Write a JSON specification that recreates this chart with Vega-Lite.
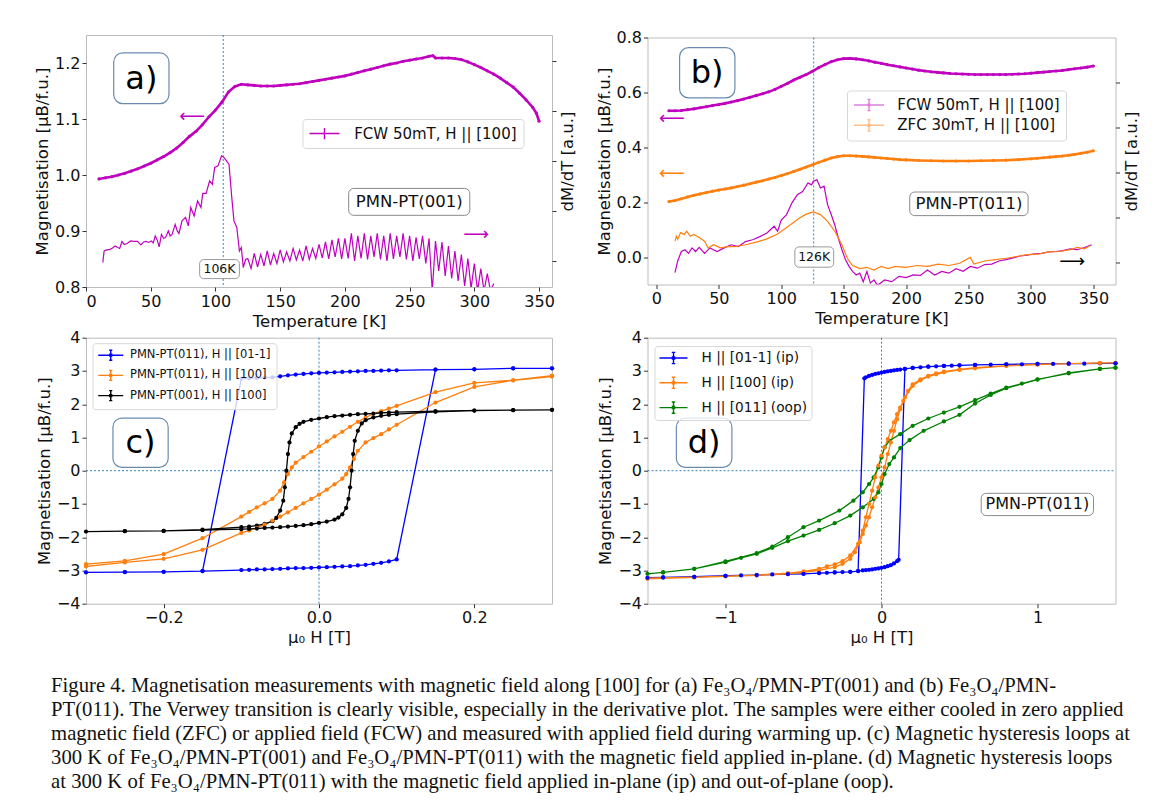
{
"$schema": "https://vega.github.io/schema/vega-lite/v6.json",
"background": "white",
"padding": {"left": 34, "top": 29, "right": 5, "bottom": 5},
"config": {
 "view": {"stroke": "#bcbcbc", "strokeWidth": 1},
 "font": "DejaVu Sans",
 "axis": {"grid": false, "domain": false, "labelFont": "DejaVu Sans", "labelFontSize": 16, "labelColor": "#111", "titleFont": "DejaVu Sans", "titleFontSize": 16.5, "titleFontWeight": "normal", "titleColor": "#111", "tickColor": "#333", "tickSize": 4, "tickWidth": 1, "labelPadding": 2, "titlePadding": 4},
 "legend": {"labelFont": "DejaVu Sans", "labelColor": "#111"}
},
"title": {"text": [
 "Figure 4. Magnetisation measurements with magnetic field along [100] for (a) Fe₃O₄/PMN-PT(001) and (b) Fe₃O₄/PMN-",
 "PT(011). The Verwey transition is clearly visible, especially in the derivative plot. The samples were either cooled in zero applied",
 "magnetic field (ZFC) or applied field (FCW) and measured with applied field during warming up. (c) Magnetic hysteresis loops at",
 "300 K of Fe₃O₄/PMN-PT(001) and Fe₃O₄/PMN-PT(011) with the magnetic field applied in-plane. (d) Magnetic hysteresis loops",
 "at 300 K of Fe₃O₄/PMN-PT(011) with the magnetic field applied in-plane (ip) and out-of-plane (oop)."],
 "orient": "bottom", "anchor": "start", "font": "Liberation Serif", "fontSize": 20.7, "fontWeight": "normal", "color": "#111", "lineHeight": 24, "offset": 29, "dx": 17},
"datasets": {
 "magA": [{"T":10,"y":0.993},{"T":15,"y":0.995},{"T":20,"y":0.997},{"T":25,"y":1.0},{"T":30,"y":1.003},{"T":35,"y":1.007},{"T":40,"y":1.011},{"T":45,"y":1.016},{"T":50,"y":1.021},{"T":55,"y":1.027},{"T":60,"y":1.033},{"T":65,"y":1.04},{"T":70,"y":1.048},{"T":75,"y":1.058},{"T":80,"y":1.069},{"T":85,"y":1.078},{"T":90,"y":1.09},{"T":95,"y":1.104},{"T":100,"y":1.116},{"T":105,"y":1.13},{"T":110,"y":1.148},{"T":115,"y":1.158},{"T":120,"y":1.162},{"T":125,"y":1.161},{"T":130,"y":1.16},{"T":135,"y":1.159},{"T":140,"y":1.159},{"T":145,"y":1.159},{"T":150,"y":1.16},{"T":155,"y":1.161},{"T":160,"y":1.162},{"T":165,"y":1.163},{"T":170,"y":1.165},{"T":175,"y":1.167},{"T":180,"y":1.169},{"T":185,"y":1.171},{"T":190,"y":1.173},{"T":195,"y":1.175},{"T":200,"y":1.177},{"T":205,"y":1.18},{"T":210,"y":1.183},{"T":215,"y":1.186},{"T":220,"y":1.189},{"T":225,"y":1.192},{"T":230,"y":1.195},{"T":235,"y":1.198},{"T":240,"y":1.2},{"T":245,"y":1.203},{"T":250,"y":1.205},{"T":255,"y":1.207},{"T":260,"y":1.209},{"T":265,"y":1.212},{"T":268,"y":1.213},{"T":270,"y":1.209},{"T":275,"y":1.209},{"T":280,"y":1.209},{"T":285,"y":1.208},{"T":290,"y":1.206},{"T":295,"y":1.202},{"T":300,"y":1.197},{"T":305,"y":1.192},{"T":310,"y":1.186},{"T":315,"y":1.18},{"T":320,"y":1.173},{"T":325,"y":1.165},{"T":330,"y":1.157},{"T":335,"y":1.146},{"T":340,"y":1.134},{"T":345,"y":1.121},{"T":348,"y":1.11},{"T":350,"y":1.096}],
 "derA": [{"T":13,"d":-0.03},{"T":14,"d":0.2},{"T":16,"d":0.22},{"T":18.5,"d":0.23},{"T":20.5,"d":0.26},{"T":22.5,"d":0.3},{"T":24.5,"d":0.27},{"T":26,"d":0.25},{"T":27.8,"d":0.39},{"T":29.5,"d":0.33},{"T":31.8,"d":0.35},{"T":34.5,"d":0.4},{"T":37,"d":0.39},{"T":39.8,"d":0.39},{"T":42.4,"d":0.32},{"T":44.5,"d":0.38},{"T":46.4,"d":0.39},{"T":48.5,"d":0.37},{"T":50.4,"d":0.4},{"T":52,"d":0.36},{"T":53.5,"d":0.5},{"T":55,"d":0.42},{"T":56.5,"d":0.28},{"T":58.3,"d":0.53},{"T":60,"d":0.45},{"T":61.5,"d":0.47},{"T":63.6,"d":0.6},{"T":65,"d":0.5},{"T":66.5,"d":0.53},{"T":68.9,"d":0.73},{"T":70.5,"d":0.6},{"T":71.8,"d":0.55},{"T":74.2,"d":0.8},{"T":76.9,"d":0.87},{"T":79,"d":0.7},{"T":80.9,"d":1.07},{"T":83.5,"d":0.9},{"T":86.2,"d":1.2},{"T":88.8,"d":1.07},{"T":90.2,"d":1.35},{"T":92.8,"d":1.35},{"T":95.5,"d":1.6},{"T":97.6,"d":1.53},{"T":99.4,"d":1.87},{"T":102,"d":1.9},{"T":104.7,"d":2.1},{"T":106.5,"d":2.07},{"T":108.5,"d":2.0},{"T":110.5,"d":1.93},{"T":112.5,"d":1.3},{"T":114.3,"d":0.8},{"T":116.5,"d":0.67},{"T":118.5,"d":0.2},{"T":120,"d":0.27},{"T":121.5,"d":-0.13},{"T":123.3,"d":0.03},{"T":125,"d":0.05},{"T":127.5,"d":-0.15},{"T":130,"d":0.15},{"T":132.5,"d":-0.12},{"T":135,"d":0.13},{"T":137.5,"d":-0.1},{"T":140,"d":0.2},{"T":142.5,"d":-0.08},{"T":145,"d":0.15},{"T":147.5,"d":-0.05},{"T":150,"d":0.22},{"T":152.5,"d":-0.02},{"T":155,"d":0.18},{"T":157.5,"d":0.0},{"T":160,"d":0.25},{"T":162.5,"d":0.02},{"T":165,"d":0.22},{"T":167.5,"d":0.0},{"T":170,"d":0.3},{"T":172.5,"d":0.03},{"T":175,"d":0.25},{"T":177.5,"d":0.05},{"T":180,"d":0.33},{"T":182.5,"d":0.06},{"T":185,"d":0.38},{"T":187.5,"d":0.04},{"T":190,"d":0.42},{"T":192.5,"d":0.08},{"T":195,"d":0.45},{"T":197.5,"d":0.04},{"T":200,"d":0.45},{"T":202.5,"d":0.05},{"T":205,"d":0.55},{"T":207.5,"d":0.0},{"T":210,"d":0.5},{"T":212.5,"d":0.05},{"T":215,"d":0.55},{"T":217.5,"d":0.03},{"T":220,"d":0.5},{"T":222.5,"d":0.08},{"T":225,"d":0.55},{"T":227.5,"d":0.03},{"T":230,"d":0.5},{"T":232.5,"d":0.0},{"T":235,"d":0.55},{"T":237.5,"d":0.04},{"T":240,"d":0.5},{"T":242.5,"d":0.08},{"T":245,"d":0.55},{"T":247.5,"d":0.03},{"T":250,"d":0.5},{"T":252.5,"d":0.0},{"T":255,"d":0.47},{"T":257.5,"d":0.04},{"T":260,"d":0.5},{"T":262.5,"d":-0.05},{"T":265,"d":0.45},{"T":267.5,"d":-0.6},{"T":270,"d":0.4},{"T":272.5,"d":-0.2},{"T":275,"d":0.38},{"T":277.5,"d":-0.3},{"T":280,"d":0.3},{"T":282.5,"d":-0.35},{"T":285,"d":0.2},{"T":287.5,"d":-0.4},{"T":290,"d":0.13},{"T":292.5,"d":-0.5},{"T":295,"d":0.05},{"T":297.5,"d":-0.55},{"T":300,"d":-0.05},{"T":302.5,"d":-0.6},{"T":305,"d":-0.15},{"T":307.5,"d":-0.6},{"T":310,"d":-0.25},{"T":312.5,"d":-0.6},{"T":315,"d":-0.45}],
 "magBF": [{"T":10,"y":0.533},{"T":15,"y":0.533},{"T":20,"y":0.534},{"T":25,"y":0.537},{"T":30,"y":0.54},{"T":35,"y":0.544},{"T":40,"y":0.548},{"T":45,"y":0.552},{"T":50,"y":0.556},{"T":55,"y":0.56},{"T":60,"y":0.565},{"T":65,"y":0.57},{"T":70,"y":0.576},{"T":75,"y":0.582},{"T":80,"y":0.589},{"T":85,"y":0.595},{"T":90,"y":0.602},{"T":95,"y":0.611},{"T":100,"y":0.622},{"T":105,"y":0.633},{"T":110,"y":0.645},{"T":115,"y":0.655},{"T":120,"y":0.665},{"T":125,"y":0.677},{"T":130,"y":0.69},{"T":135,"y":0.701},{"T":140,"y":0.712},{"T":145,"y":0.719},{"T":150,"y":0.723},{"T":155,"y":0.724},{"T":160,"y":0.722},{"T":165,"y":0.719},{"T":170,"y":0.715},{"T":175,"y":0.71},{"T":180,"y":0.706},{"T":185,"y":0.701},{"T":190,"y":0.697},{"T":195,"y":0.693},{"T":200,"y":0.689},{"T":205,"y":0.685},{"T":210,"y":0.681},{"T":215,"y":0.678},{"T":220,"y":0.675},{"T":225,"y":0.673},{"T":230,"y":0.671},{"T":235,"y":0.669},{"T":240,"y":0.668},{"T":245,"y":0.667},{"T":250,"y":0.666},{"T":255,"y":0.665},{"T":260,"y":0.665},{"T":265,"y":0.665},{"T":270,"y":0.665},{"T":275,"y":0.665},{"T":280,"y":0.665},{"T":285,"y":0.666},{"T":290,"y":0.667},{"T":295,"y":0.668},{"T":300,"y":0.67},{"T":305,"y":0.672},{"T":310,"y":0.674},{"T":315,"y":0.676},{"T":320,"y":0.678},{"T":325,"y":0.68},{"T":330,"y":0.683},{"T":335,"y":0.686},{"T":340,"y":0.689},{"T":345,"y":0.692},{"T":350,"y":0.696}],
 "magBZ": [{"T":10,"y":0.202},{"T":15,"y":0.206},{"T":20,"y":0.212},{"T":25,"y":0.219},{"T":30,"y":0.225},{"T":35,"y":0.23},{"T":40,"y":0.235},{"T":45,"y":0.24},{"T":50,"y":0.244},{"T":55,"y":0.248},{"T":60,"y":0.252},{"T":65,"y":0.257},{"T":70,"y":0.262},{"T":75,"y":0.267},{"T":80,"y":0.273},{"T":85,"y":0.278},{"T":90,"y":0.284},{"T":95,"y":0.29},{"T":100,"y":0.297},{"T":105,"y":0.304},{"T":110,"y":0.312},{"T":115,"y":0.32},{"T":120,"y":0.328},{"T":125,"y":0.336},{"T":130,"y":0.345},{"T":135,"y":0.353},{"T":140,"y":0.361},{"T":145,"y":0.366},{"T":150,"y":0.369},{"T":155,"y":0.369},{"T":160,"y":0.368},{"T":165,"y":0.367},{"T":170,"y":0.365},{"T":175,"y":0.363},{"T":180,"y":0.361},{"T":185,"y":0.359},{"T":190,"y":0.357},{"T":195,"y":0.355},{"T":200,"y":0.354},{"T":210,"y":0.352},{"T":220,"y":0.351},{"T":230,"y":0.35},{"T":240,"y":0.35},{"T":250,"y":0.35},{"T":260,"y":0.351},{"T":270,"y":0.352},{"T":280,"y":0.353},{"T":290,"y":0.355},{"T":300,"y":0.358},{"T":305,"y":0.36},{"T":310,"y":0.362},{"T":315,"y":0.364},{"T":320,"y":0.366},{"T":325,"y":0.368},{"T":330,"y":0.371},{"T":335,"y":0.374},{"T":340,"y":0.378},{"T":345,"y":0.382},{"T":350,"y":0.387}],
 "derBF": [{"T":14.9,"d":-0.22},{"T":17.1,"d":0.04},{"T":20,"d":0.25},{"T":22.9,"d":0.29},{"T":25.7,"d":0.21},{"T":28.6,"d":0.33},{"T":31.4,"d":0.25},{"T":34.3,"d":0.34},{"T":38.6,"d":0.21},{"T":42.9,"d":0.33},{"T":48.6,"d":0.25},{"T":54.3,"d":0.33},{"T":60,"d":0.4},{"T":65.7,"d":0.36},{"T":71.4,"d":0.47},{"T":77.1,"d":0.51},{"T":82.9,"d":0.58},{"T":88.6,"d":0.66},{"T":94.3,"d":0.81},{"T":97.1,"d":0.7},{"T":100,"d":0.95},{"T":104.3,"d":1.07},{"T":108.6,"d":1.33},{"T":112.9,"d":1.51},{"T":117.1,"d":1.58},{"T":121.4,"d":1.77},{"T":124.3,"d":1.73},{"T":125.7,"d":1.81},{"T":128.6,"d":1.84},{"T":131.4,"d":1.66},{"T":134.3,"d":1.7},{"T":137.1,"d":1.29},{"T":140,"d":1.07},{"T":142.9,"d":0.84},{"T":145.7,"d":0.55},{"T":148.6,"d":0.29},{"T":151.4,"d":0.07},{"T":154.3,"d":-0.08},{"T":157.1,"d":-0.19},{"T":160,"d":-0.27},{"T":162.9,"d":-0.23},{"T":165.7,"d":-0.42},{"T":168.6,"d":-0.19},{"T":171.4,"d":-0.45},{"T":174.3,"d":-0.38},{"T":177.1,"d":-0.5},{"T":182.9,"d":-0.38},{"T":188.6,"d":-0.42},{"T":194.3,"d":-0.3},{"T":200,"d":-0.33},{"T":205.7,"d":-0.27},{"T":211.4,"d":-0.28},{"T":217.1,"d":-0.16},{"T":222.9,"d":-0.27},{"T":228.6,"d":-0.19},{"T":234.3,"d":-0.23},{"T":240,"d":-0.13},{"T":245.7,"d":-0.19},{"T":251.4,"d":-0.08},{"T":257.1,"d":-0.12},{"T":262.9,"d":-0.04},{"T":268.6,"d":-0.03},{"T":274.3,"d":0.04},{"T":280,"d":0.07},{"T":285.7,"d":0.11},{"T":291.4,"d":0.15},{"T":297.1,"d":0.17},{"T":302.9,"d":0.2},{"T":308.6,"d":0.21},{"T":314.3,"d":0.24},{"T":320,"d":0.25},{"T":325.7,"d":0.27},{"T":331.4,"d":0.31},{"T":337.1,"d":0.29},{"T":342.9,"d":0.34},{"T":348.6,"d":0.4}],
 "derBZ": [{"T":14.9,"d":0.48},{"T":16,"d":0.59},{"T":17.1,"d":0.52},{"T":19.4,"d":0.67},{"T":22.3,"d":0.63},{"T":24.3,"d":0.7},{"T":27.1,"d":0.59},{"T":30,"d":0.63},{"T":34.3,"d":0.56},{"T":38.6,"d":0.48},{"T":41.4,"d":0.33},{"T":45.7,"d":0.4},{"T":51.4,"d":0.33},{"T":57.1,"d":0.36},{"T":62.9,"d":0.36},{"T":71.4,"d":0.4},{"T":80,"d":0.46},{"T":88.6,"d":0.53},{"T":97.1,"d":0.64},{"T":105.7,"d":0.81},{"T":114.3,"d":0.99},{"T":120,"d":1.08},{"T":125.7,"d":1.13},{"T":131.4,"d":1.07},{"T":137.1,"d":0.92},{"T":142.9,"d":0.7},{"T":148.6,"d":0.4},{"T":152.9,"d":0.1},{"T":157.1,"d":-0.06},{"T":162.9,"d":-0.13},{"T":168.6,"d":-0.1},{"T":174.3,"d":-0.16},{"T":180,"d":-0.08},{"T":185.7,"d":-0.13},{"T":191.4,"d":-0.08},{"T":200,"d":-0.1},{"T":208.6,"d":-0.06},{"T":217.1,"d":-0.08},{"T":225.7,"d":-0.03},{"T":234.3,"d":-0.06},{"T":242.9,"d":-0.01},{"T":251.4,"d":0.12},{"T":254.3,"d":-0.03},{"T":262.9,"d":0.04},{"T":271.4,"d":0.07},{"T":280,"d":0.1},{"T":288.6,"d":0.14},{"T":297.1,"d":0.18},{"T":305.7,"d":0.19},{"T":314.3,"d":0.24},{"T":322.9,"d":0.25},{"T":331.4,"d":0.29},{"T":337.1,"d":0.34},{"T":342.9,"d":0.31},{"T":347.1,"d":0.38}],
 "loopC": [
{"s":"A","i":0,"h":0.3,"m":3.08},{"s":"A","i":1,"h":0.25,"m":3.08},{"s":"A","i":2,"h":0.2,"m":3.05},{"s":"A","i":3,"h":0.15,"m":3.04},{"s":"A","i":4,"h":0.1,"m":3.02},{"s":"A","i":5,"h":0.09,"m":3.02},{"s":"A","i":6,"h":0.08,"m":3.01},{"s":"A","i":7,"h":0.07,"m":3.0},{"s":"A","i":8,"h":0.06,"m":3.0},{"s":"A","i":9,"h":0.05,"m":2.99},{"s":"A","i":10,"h":0.04,"m":2.98},{"s":"A","i":11,"h":0.03,"m":2.97},{"s":"A","i":12,"h":0.02,"m":2.96},{"s":"A","i":13,"h":0.01,"m":2.95},{"s":"A","i":14,"h":0.0,"m":2.94},{"s":"A","i":15,"h":-0.01,"m":2.93},{"s":"A","i":16,"h":-0.02,"m":2.91},{"s":"A","i":17,"h":-0.03,"m":2.89},{"s":"A","i":18,"h":-0.04,"m":2.87},{"s":"A","i":19,"h":-0.05,"m":2.84},{"s":"A","i":20,"h":-0.06,"m":2.81},{"s":"A","i":21,"h":-0.07,"m":2.8},{"s":"A","i":22,"h":-0.08,"m":2.79},{"s":"A","i":23,"h":-0.09,"m":2.78},{"s":"A","i":24,"h":-0.1,"m":2.77},{"s":"A","i":25,"h":-0.15,"m":-3.02},{"s":"A","i":26,"h":-0.2,"m":-3.04},{"s":"A","i":27,"h":-0.25,"m":-3.05},{"s":"A","i":28,"h":-0.3,"m":-3.06},{"s":"A","i":29,"h":-0.25,"m":-3.05},{"s":"A","i":30,"h":-0.2,"m":-3.04},{"s":"A","i":31,"h":-0.15,"m":-3.02},{"s":"A","i":32,"h":-0.1,"m":-2.99},{"s":"A","i":33,"h":-0.09,"m":-2.98},{"s":"A","i":34,"h":-0.08,"m":-2.97},{"s":"A","i":35,"h":-0.07,"m":-2.97},{"s":"A","i":36,"h":-0.06,"m":-2.96},{"s":"A","i":37,"h":-0.05,"m":-2.95},{"s":"A","i":38,"h":-0.04,"m":-2.94},{"s":"A","i":39,"h":-0.03,"m":-2.93},{"s":"A","i":40,"h":-0.02,"m":-2.93},{"s":"A","i":41,"h":-0.01,"m":-2.92},{"s":"A","i":42,"h":0.0,"m":-2.91},{"s":"A","i":43,"h":0.01,"m":-2.9},{"s":"A","i":44,"h":0.02,"m":-2.89},{"s":"A","i":45,"h":0.03,"m":-2.88},{"s":"A","i":46,"h":0.04,"m":-2.87},{"s":"A","i":47,"h":0.05,"m":-2.85},{"s":"A","i":48,"h":0.06,"m":-2.83},{"s":"A","i":49,"h":0.07,"m":-2.8},{"s":"A","i":50,"h":0.08,"m":-2.77},{"s":"A","i":51,"h":0.09,"m":-2.73},{"s":"A","i":52,"h":0.1,"m":-2.67},{"s":"A","i":53,"h":0.15,"m":3.04},{"s":"A","i":54,"h":0.2,"m":3.05},{"s":"A","i":55,"h":0.25,"m":3.08},{"s":"A","i":56,"h":0.3,"m":3.08},
{"s":"B","i":0,"h":0.3,"m":2.83},{"s":"B","i":1,"h":0.25,"m":2.72},{"s":"B","i":2,"h":0.2,"m":2.64},{"s":"B","i":3,"h":0.15,"m":2.36},{"s":"B","i":4,"h":0.1,"m":1.95},{"s":"B","i":5,"h":0.09,"m":1.87},{"s":"B","i":6,"h":0.08,"m":1.79},{"s":"B","i":7,"h":0.07,"m":1.71},{"s":"B","i":8,"h":0.06,"m":1.6},{"s":"B","i":9,"h":0.05,"m":1.47},{"s":"B","i":10,"h":0.04,"m":1.32},{"s":"B","i":11,"h":0.03,"m":1.17},{"s":"B","i":12,"h":0.02,"m":1.03},{"s":"B","i":13,"h":0.01,"m":0.88},{"s":"B","i":14,"h":0.0,"m":0.73},{"s":"B","i":15,"h":-0.01,"m":0.57},{"s":"B","i":16,"h":-0.02,"m":0.41},{"s":"B","i":17,"h":-0.03,"m":0.24},{"s":"B","i":18,"h":-0.035,"m":0.1},{"s":"B","i":19,"h":-0.04,"m":-0.1},{"s":"B","i":20,"h":-0.045,"m":-0.35},{"s":"B","i":21,"h":-0.05,"m":-0.6},{"s":"B","i":22,"h":-0.06,"m":-0.85},{"s":"B","i":23,"h":-0.07,"m":-0.98},{"s":"B","i":24,"h":-0.08,"m":-1.1},{"s":"B","i":25,"h":-0.09,"m":-1.24},{"s":"B","i":26,"h":-0.1,"m":-1.38},{"s":"B","i":27,"h":-0.15,"m":-2.03},{"s":"B","i":28,"h":-0.2,"m":-2.51},{"s":"B","i":29,"h":-0.25,"m":-2.71},{"s":"B","i":30,"h":-0.3,"m":-2.81},{"s":"B","i":31,"h":-0.3,"m":-2.88},{"s":"B","i":32,"h":-0.25,"m":-2.76},{"s":"B","i":33,"h":-0.2,"m":-2.65},{"s":"B","i":34,"h":-0.15,"m":-2.38},{"s":"B","i":35,"h":-0.1,"m":-1.87},{"s":"B","i":36,"h":-0.09,"m":-1.8},{"s":"B","i":37,"h":-0.08,"m":-1.72},{"s":"B","i":38,"h":-0.07,"m":-1.62},{"s":"B","i":39,"h":-0.06,"m":-1.5},{"s":"B","i":40,"h":-0.05,"m":-1.38},{"s":"B","i":41,"h":-0.04,"m":-1.25},{"s":"B","i":42,"h":-0.03,"m":-1.12},{"s":"B","i":43,"h":-0.02,"m":-0.98},{"s":"B","i":44,"h":-0.01,"m":-0.85},{"s":"B","i":45,"h":0.0,"m":-0.72},{"s":"B","i":46,"h":0.01,"m":-0.57},{"s":"B","i":47,"h":0.02,"m":-0.41},{"s":"B","i":48,"h":0.03,"m":-0.24},{"s":"B","i":49,"h":0.035,"m":-0.1},{"s":"B","i":50,"h":0.04,"m":0.1},{"s":"B","i":51,"h":0.045,"m":0.35},{"s":"B","i":52,"h":0.05,"m":0.6},{"s":"B","i":53,"h":0.06,"m":0.85},{"s":"B","i":54,"h":0.07,"m":0.98},{"s":"B","i":55,"h":0.08,"m":1.1},{"s":"B","i":56,"h":0.09,"m":1.24},{"s":"B","i":57,"h":0.1,"m":1.38},{"s":"B","i":58,"h":0.15,"m":2.05},{"s":"B","i":59,"h":0.2,"m":2.52},{"s":"B","i":60,"h":0.25,"m":2.72},{"s":"B","i":61,"h":0.3,"m":2.86},
{"s":"C","i":0,"h":0.3,"m":1.83},{"s":"C","i":1,"h":0.25,"m":1.82},{"s":"C","i":2,"h":0.2,"m":1.81},{"s":"C","i":3,"h":0.15,"m":1.79},{"s":"C","i":4,"h":0.1,"m":1.76},{"s":"C","i":5,"h":0.09,"m":1.75},{"s":"C","i":6,"h":0.08,"m":1.74},{"s":"C","i":7,"h":0.07,"m":1.72},{"s":"C","i":8,"h":0.06,"m":1.71},{"s":"C","i":9,"h":0.05,"m":1.7},{"s":"C","i":10,"h":0.04,"m":1.68},{"s":"C","i":11,"h":0.03,"m":1.66},{"s":"C","i":12,"h":0.02,"m":1.64},{"s":"C","i":13,"h":0.01,"m":1.61},{"s":"C","i":14,"h":0.0,"m":1.57},{"s":"C","i":15,"h":-0.01,"m":1.53},{"s":"C","i":16,"h":-0.02,"m":1.47},{"s":"C","i":17,"h":-0.025,"m":1.41},{"s":"C","i":18,"h":-0.03,"m":1.31},{"s":"C","i":19,"h":-0.035,"m":1.12},{"s":"C","i":20,"h":-0.038,"m":0.85},{"s":"C","i":21,"h":-0.04,"m":0.5},{"s":"C","i":22,"h":-0.042,"m":0.0},{"s":"C","i":23,"h":-0.044,"m":-0.5},{"s":"C","i":24,"h":-0.046,"m":-0.9},{"s":"C","i":25,"h":-0.05,"m":-1.2},{"s":"C","i":26,"h":-0.055,"m":-1.42},{"s":"C","i":27,"h":-0.06,"m":-1.52},{"s":"C","i":28,"h":-0.07,"m":-1.6},{"s":"C","i":29,"h":-0.08,"m":-1.65},{"s":"C","i":30,"h":-0.09,"m":-1.68},{"s":"C","i":31,"h":-0.1,"m":-1.7},{"s":"C","i":32,"h":-0.15,"m":-1.77},{"s":"C","i":33,"h":-0.2,"m":-1.81},{"s":"C","i":34,"h":-0.25,"m":-1.82},{"s":"C","i":35,"h":-0.3,"m":-1.83},{"s":"C","i":36,"h":-0.25,"m":-1.82},{"s":"C","i":37,"h":-0.2,"m":-1.81},{"s":"C","i":38,"h":-0.15,"m":-1.79},{"s":"C","i":39,"h":-0.1,"m":-1.76},{"s":"C","i":40,"h":-0.09,"m":-1.75},{"s":"C","i":41,"h":-0.08,"m":-1.74},{"s":"C","i":42,"h":-0.07,"m":-1.72},{"s":"C","i":43,"h":-0.06,"m":-1.71},{"s":"C","i":44,"h":-0.05,"m":-1.7},{"s":"C","i":45,"h":-0.04,"m":-1.68},{"s":"C","i":46,"h":-0.03,"m":-1.66},{"s":"C","i":47,"h":-0.02,"m":-1.64},{"s":"C","i":48,"h":-0.01,"m":-1.61},{"s":"C","i":49,"h":0.0,"m":-1.57},{"s":"C","i":50,"h":0.01,"m":-1.53},{"s":"C","i":51,"h":0.02,"m":-1.47},{"s":"C","i":52,"h":0.025,"m":-1.41},{"s":"C","i":53,"h":0.03,"m":-1.31},{"s":"C","i":54,"h":0.035,"m":-1.12},{"s":"C","i":55,"h":0.038,"m":-0.85},{"s":"C","i":56,"h":0.04,"m":-0.5},{"s":"C","i":57,"h":0.042,"m":0.0},{"s":"C","i":58,"h":0.044,"m":0.5},{"s":"C","i":59,"h":0.046,"m":0.9},{"s":"C","i":60,"h":0.05,"m":1.2},{"s":"C","i":61,"h":0.055,"m":1.42},{"s":"C","i":62,"h":0.06,"m":1.52},{"s":"C","i":63,"h":0.07,"m":1.6},{"s":"C","i":64,"h":0.08,"m":1.65},{"s":"C","i":65,"h":0.09,"m":1.68},{"s":"C","i":66,"h":0.1,"m":1.7},{"s":"C","i":67,"h":0.15,"m":1.77},{"s":"C","i":68,"h":0.2,"m":1.81},{"s":"C","i":69,"h":0.25,"m":1.82},{"s":"C","i":70,"h":0.3,"m":1.83}],
 "loopD": [
{"s":"A","i":0,"h":1.5,"m":3.23},{"s":"A","i":1,"h":1.4,"m":3.23},{"s":"A","i":2,"h":1.3,"m":3.22},{"s":"A","i":3,"h":1.2,"m":3.22},{"s":"A","i":4,"h":1.1,"m":3.21},{"s":"A","i":5,"h":1.0,"m":3.21},{"s":"A","i":6,"h":0.9,"m":3.2},{"s":"A","i":7,"h":0.8,"m":3.2},{"s":"A","i":8,"h":0.7,"m":3.19},{"s":"A","i":9,"h":0.6,"m":3.18},{"s":"A","i":10,"h":0.5,"m":3.17},{"s":"A","i":11,"h":0.45,"m":3.16},{"s":"A","i":12,"h":0.4,"m":3.15},{"s":"A","i":13,"h":0.35,"m":3.14},{"s":"A","i":14,"h":0.3,"m":3.13},{"s":"A","i":15,"h":0.25,"m":3.11},{"s":"A","i":16,"h":0.2,"m":3.09},{"s":"A","i":17,"h":0.15,"m":3.06},{"s":"A","i":18,"h":0.12,"m":3.04},{"s":"A","i":19,"h":0.1,"m":3.03},{"s":"A","i":20,"h":0.08,"m":3.02},{"s":"A","i":21,"h":0.06,"m":3.0},{"s":"A","i":22,"h":0.04,"m":2.99},{"s":"A","i":23,"h":0.02,"m":2.97},{"s":"A","i":24,"h":0.0,"m":2.95},{"s":"A","i":25,"h":-0.02,"m":2.93},{"s":"A","i":26,"h":-0.04,"m":2.91},{"s":"A","i":27,"h":-0.06,"m":2.88},{"s":"A","i":28,"h":-0.08,"m":2.85},{"s":"A","i":29,"h":-0.1,"m":2.81},{"s":"A","i":30,"h":-0.11,"m":2.78},{"s":"A","i":31,"h":-0.15,"m":-3.02},{"s":"A","i":32,"h":-0.2,"m":-3.04},{"s":"A","i":33,"h":-0.25,"m":-3.05},{"s":"A","i":34,"h":-0.3,"m":-3.06},{"s":"A","i":35,"h":-0.35,"m":-3.07},{"s":"A","i":36,"h":-0.4,"m":-3.08},{"s":"A","i":37,"h":-0.5,"m":-3.1},{"s":"A","i":38,"h":-0.6,"m":-3.11},{"s":"A","i":39,"h":-0.7,"m":-3.12},{"s":"A","i":40,"h":-0.8,"m":-3.14},{"s":"A","i":41,"h":-0.9,"m":-3.15},{"s":"A","i":42,"h":-1.0,"m":-3.16},{"s":"A","i":43,"h":-1.2,"m":-3.19},{"s":"A","i":44,"h":-1.4,"m":-3.21},{"s":"A","i":45,"h":-1.5,"m":-3.22},{"s":"A","i":46,"h":-1.4,"m":-3.21},{"s":"A","i":47,"h":-1.2,"m":-3.19},{"s":"A","i":48,"h":-1.0,"m":-3.16},{"s":"A","i":49,"h":-0.8,"m":-3.14},{"s":"A","i":50,"h":-0.6,"m":-3.11},{"s":"A","i":51,"h":-0.5,"m":-3.1},{"s":"A","i":52,"h":-0.4,"m":-3.08},{"s":"A","i":53,"h":-0.3,"m":-3.06},{"s":"A","i":54,"h":-0.2,"m":-3.04},{"s":"A","i":55,"h":-0.15,"m":-3.02},{"s":"A","i":56,"h":-0.12,"m":-3.0},{"s":"A","i":57,"h":-0.1,"m":-2.99},{"s":"A","i":58,"h":-0.08,"m":-2.98},{"s":"A","i":59,"h":-0.06,"m":-2.97},{"s":"A","i":60,"h":-0.04,"m":-2.95},{"s":"A","i":61,"h":-0.02,"m":-2.94},{"s":"A","i":62,"h":0.0,"m":-2.92},{"s":"A","i":63,"h":0.02,"m":-2.9},{"s":"A","i":64,"h":0.04,"m":-2.87},{"s":"A","i":65,"h":0.06,"m":-2.84},{"s":"A","i":66,"h":0.08,"m":-2.79},{"s":"A","i":67,"h":0.1,"m":-2.72},{"s":"A","i":68,"h":0.11,"m":-2.68},{"s":"A","i":69,"h":0.15,"m":3.06},{"s":"A","i":70,"h":0.2,"m":3.09},{"s":"A","i":71,"h":0.3,"m":3.13},{"s":"A","i":72,"h":0.4,"m":3.15},{"s":"A","i":73,"h":0.5,"m":3.17},{"s":"A","i":74,"h":0.6,"m":3.18},{"s":"A","i":75,"h":0.8,"m":3.2},{"s":"A","i":76,"h":1.0,"m":3.21},{"s":"A","i":77,"h":1.2,"m":3.22},{"s":"A","i":78,"h":1.5,"m":3.23},
{"s":"B","i":0,"h":1.5,"m":3.24},{"s":"B","i":1,"h":1.4,"m":3.24},{"s":"B","i":2,"h":1.2,"m":3.22},{"s":"B","i":3,"h":1.0,"m":3.2},{"s":"B","i":4,"h":0.8,"m":3.16},{"s":"B","i":5,"h":0.6,"m":3.1},{"s":"B","i":6,"h":0.5,"m":3.05},{"s":"B","i":7,"h":0.4,"m":2.98},{"s":"B","i":8,"h":0.35,"m":2.93},{"s":"B","i":9,"h":0.3,"m":2.85},{"s":"B","i":10,"h":0.25,"m":2.75},{"s":"B","i":11,"h":0.2,"m":2.6},{"s":"B","i":12,"h":0.17,"m":2.4},{"s":"B","i":13,"h":0.14,"m":2.1},{"s":"B","i":14,"h":0.12,"m":1.9},{"s":"B","i":15,"h":0.1,"m":1.7},{"s":"B","i":16,"h":0.08,"m":1.45},{"s":"B","i":17,"h":0.06,"m":1.2},{"s":"B","i":18,"h":0.04,"m":0.95},{"s":"B","i":19,"h":0.02,"m":0.7},{"s":"B","i":20,"h":0.0,"m":0.45},{"s":"B","i":21,"h":-0.02,"m":0.15},{"s":"B","i":22,"h":-0.04,"m":-0.2},{"s":"B","i":23,"h":-0.06,"m":-0.6},{"s":"B","i":24,"h":-0.08,"m":-1.0},{"s":"B","i":25,"h":-0.1,"m":-1.4},{"s":"B","i":26,"h":-0.12,"m":-1.8},{"s":"B","i":27,"h":-0.15,"m":-2.2},{"s":"B","i":28,"h":-0.2,"m":-2.55},{"s":"B","i":29,"h":-0.25,"m":-2.72},{"s":"B","i":30,"h":-0.3,"m":-2.82},{"s":"B","i":31,"h":-0.35,"m":-2.88},{"s":"B","i":32,"h":-0.4,"m":-2.95},{"s":"B","i":33,"h":-0.5,"m":-3.03},{"s":"B","i":34,"h":-0.6,"m":-3.08},{"s":"B","i":35,"h":-0.8,"m":-3.14},{"s":"B","i":36,"h":-1.0,"m":-3.17},{"s":"B","i":37,"h":-1.2,"m":-3.2},{"s":"B","i":38,"h":-1.5,"m":-3.23},{"s":"B","i":39,"h":-1.5,"m":-3.25},{"s":"B","i":40,"h":-1.2,"m":-3.21},{"s":"B","i":41,"h":-1.0,"m":-3.18},{"s":"B","i":42,"h":-0.8,"m":-3.15},{"s":"B","i":43,"h":-0.6,"m":-3.1},{"s":"B","i":44,"h":-0.5,"m":-3.06},{"s":"B","i":45,"h":-0.4,"m":-3.0},{"s":"B","i":46,"h":-0.3,"m":-2.9},{"s":"B","i":47,"h":-0.25,"m":-2.8},{"s":"B","i":48,"h":-0.2,"m":-2.65},{"s":"B","i":49,"h":-0.17,"m":-2.45},{"s":"B","i":50,"h":-0.14,"m":-2.15},{"s":"B","i":51,"h":-0.12,"m":-1.9},{"s":"B","i":52,"h":-0.1,"m":-1.65},{"s":"B","i":53,"h":-0.08,"m":-1.4},{"s":"B","i":54,"h":-0.06,"m":-1.1},{"s":"B","i":55,"h":-0.04,"m":-0.8},{"s":"B","i":56,"h":-0.02,"m":-0.5},{"s":"B","i":57,"h":0.0,"m":-0.2},{"s":"B","i":58,"h":0.02,"m":0.1},{"s":"B","i":59,"h":0.04,"m":0.5},{"s":"B","i":60,"h":0.06,"m":0.85},{"s":"B","i":61,"h":0.08,"m":1.2},{"s":"B","i":62,"h":0.1,"m":1.55},{"s":"B","i":63,"h":0.12,"m":1.85},{"s":"B","i":64,"h":0.15,"m":2.2},{"s":"B","i":65,"h":0.2,"m":2.55},{"s":"B","i":66,"h":0.25,"m":2.72},{"s":"B","i":67,"h":0.3,"m":2.83},{"s":"B","i":68,"h":0.35,"m":2.9},{"s":"B","i":69,"h":0.4,"m":2.96},{"s":"B","i":70,"h":0.5,"m":3.03},{"s":"B","i":71,"h":0.6,"m":3.08},{"s":"B","i":72,"h":0.8,"m":3.15},{"s":"B","i":73,"h":1.0,"m":3.19},{"s":"B","i":74,"h":1.2,"m":3.22},{"s":"B","i":75,"h":1.5,"m":3.24},
{"s":"C","i":0,"h":1.5,"m":3.1},{"s":"C","i":1,"h":1.4,"m":3.06},{"s":"C","i":2,"h":1.2,"m":2.93},{"s":"C","i":3,"h":1.0,"m":2.75},{"s":"C","i":4,"h":0.9,"m":2.62},{"s":"C","i":5,"h":0.8,"m":2.5},{"s":"C","i":6,"h":0.7,"m":2.32},{"s":"C","i":7,"h":0.6,"m":2.12},{"s":"C","i":8,"h":0.5,"m":1.92},{"s":"C","i":9,"h":0.4,"m":1.75},{"s":"C","i":10,"h":0.3,"m":1.57},{"s":"C","i":11,"h":0.2,"m":1.35},{"s":"C","i":12,"h":0.12,"m":1.1},{"s":"C","i":13,"h":0.05,"m":0.9},{"s":"C","i":14,"h":0.02,"m":0.7},{"s":"C","i":15,"h":0.0,"m":0.4},{"s":"C","i":16,"h":-0.02,"m":0.1},{"s":"C","i":17,"h":-0.05,"m":-0.2},{"s":"C","i":18,"h":-0.08,"m":-0.4},{"s":"C","i":19,"h":-0.12,"m":-0.65},{"s":"C","i":20,"h":-0.18,"m":-0.9},{"s":"C","i":21,"h":-0.27,"m":-1.2},{"s":"C","i":22,"h":-0.4,"m":-1.5},{"s":"C","i":23,"h":-0.5,"m":-1.7},{"s":"C","i":24,"h":-0.6,"m":-2.0},{"s":"C","i":25,"h":-0.7,"m":-2.28},{"s":"C","i":26,"h":-0.8,"m":-2.48},{"s":"C","i":27,"h":-1.0,"m":-2.73},{"s":"C","i":28,"h":-1.2,"m":-2.95},{"s":"C","i":29,"h":-1.4,"m":-3.06},{"s":"C","i":30,"h":-1.5,"m":-3.1},{"s":"C","i":31,"h":-1.4,"m":-3.06},{"s":"C","i":32,"h":-1.2,"m":-2.95},{"s":"C","i":33,"h":-1.0,"m":-2.75},{"s":"C","i":34,"h":-0.9,"m":-2.62},{"s":"C","i":35,"h":-0.8,"m":-2.5},{"s":"C","i":36,"h":-0.7,"m":-2.32},{"s":"C","i":37,"h":-0.6,"m":-2.12},{"s":"C","i":38,"h":-0.5,"m":-1.95},{"s":"C","i":39,"h":-0.4,"m":-1.78},{"s":"C","i":40,"h":-0.3,"m":-1.58},{"s":"C","i":41,"h":-0.2,"m":-1.35},{"s":"C","i":42,"h":-0.12,"m":-1.1},{"s":"C","i":43,"h":-0.05,"m":-0.85},{"s":"C","i":44,"h":-0.02,"m":-0.65},{"s":"C","i":45,"h":0.0,"m":-0.4},{"s":"C","i":46,"h":0.02,"m":-0.1},{"s":"C","i":47,"h":0.05,"m":0.2},{"s":"C","i":48,"h":0.08,"m":0.4},{"s":"C","i":49,"h":0.12,"m":0.68},{"s":"C","i":50,"h":0.18,"m":0.92},{"s":"C","i":51,"h":0.27,"m":1.2},{"s":"C","i":52,"h":0.4,"m":1.48},{"s":"C","i":53,"h":0.5,"m":1.68},{"s":"C","i":54,"h":0.6,"m":2.02},{"s":"C","i":55,"h":0.7,"m":2.28},{"s":"C","i":56,"h":0.8,"m":2.48},{"s":"C","i":57,"h":1.0,"m":2.74},{"s":"C","i":58,"h":1.2,"m":2.94},{"s":"C","i":59,"h":1.4,"m":3.06},{"s":"C","i":60,"h":1.5,"m":3.1}]
},
"concat": [
 {
  "width": 466, "height": 252,
  "encoding": {"x": {"field": "T", "type": "quantitative", "scale": {"domain": [0, 360], "nice": false, "zero": false}, "axis": {"title": "Temperature [K]", "values": [0,50,100,150,200,250,300,350], "format": "d"}}},
  "layer": [
   {"data": {"values": [{"T": 106}]}, "mark": {"type": "rule", "color": "#1f77b4", "strokeDash": [2, 2], "strokeWidth": 0.9}, "encoding": {}},
   {"data": {"name": "derA"}, "mark": {"type": "line", "color": "#bf00bf", "strokeWidth": 1.2, "clip": true},
    "encoding": {"y": {"field": "d", "type": "quantitative", "scale": {"domain": [-0.52, 4.514], "nice": false, "zero": false}, "axis": {"orient": "right", "title": "dM/dT [a.u.]", "values": [0,1,2,3,4], "labels": false, "titleAngle": 270, "titleBaseline": "top", "titlePadding": 3}}}},
   {"encoding": {"y": {"field": "y", "type": "quantitative", "scale": {"domain": [0.8, 1.25], "nice": false, "zero": false}, "axis": {"title": "Magnetisation [μB/f.u.]", "values": [0.8, 0.9, 1.0, 1.1, 1.2], "format": ".1f"}}},
    "layer": [
     {"data": {"name": "magA"}, "mark": {"type": "line", "strokeWidth": 2.6, "clip": true, "point": {"filled": true, "size": 10}},
      "encoding": {"color": {"datum": "FCW 50mT, H || [100]", "type": "nominal", "scale": {"domain": ["FCW 50mT, H || [100]"], "range": ["#bf00bf"]},
        "legend": {"orient": "none", "legendX": 216.5, "legendY": 84, "title": null, "symbolType": "M-1,0H3M1,-0.75V0.75", "symbolSize": 225, "symbolStrokeWidth": 1.4, "labelFontSize": 15, "labelOffset": 28.7, "padding": 6, "strokeColor": "#d8d8d8", "cornerRadius": 3, "fillColor": "rgba(255,255,255,0.8)", "labelLimit": 400}}}},
     {"data": {"values": [{"T": 21.4, "T2": 64.1, "y": 1.1275, "y2": 1.218}]}, "mark": {"type": "rect", "fill": "white", "stroke": "#6a8bb0", "strokeWidth": 1.2, "cornerRadius": 9}, "encoding": {"x2": {"field": "T2"}, "y2": {"field": "y2"}}},
     {"data": {"values": [{"T": 87.8, "T2": 118.5, "y": 0.815, "y2": 0.849}]}, "mark": {"type": "rect", "fill": "white", "stroke": "#9a9a9a", "strokeWidth": 1, "cornerRadius": 4}, "encoding": {"x2": {"field": "T2"}, "y2": {"field": "y2"}}},
     {"data": {"values": [{"T": 202.9, "T2": 296.5, "y": 0.928, "y2": 0.976}]}, "mark": {"type": "rect", "fill": "white", "stroke": "#8a8a8a", "strokeWidth": 1, "cornerRadius": 5}, "encoding": {"x2": {"field": "T2"}, "y2": {"field": "y2"}}},
     {"data": {"values": [{"T": 42.75, "y": 1.172, "t": "a)"}]}, "mark": {"type": "text", "fontSize": 32, "color": "#000", "align": "center", "baseline": "middle"}, "encoding": {"text": {"field": "t"}}},
     {"data": {"values": [{"T": 103.1, "y": 0.832, "t": "106K"}]}, "mark": {"type": "text", "fontSize": 12.5, "color": "#111", "align": "center", "baseline": "middle"}, "encoding": {"text": {"field": "t"}}},
     {"data": {"values": [{"T": 249.7, "y": 0.952, "t": "PMN-PT(001)"}]}, "mark": {"type": "text", "fontSize": 16.5, "color": "#111", "align": "center", "baseline": "middle"}, "encoding": {"text": {"field": "t"}}},
     {"data": {"values": [{"T": 82, "y": 1.103, "t": "⟵"}, {"T": 301.5, "y": 0.893, "t": "⟶"}]}, "mark": {"type": "text", "fontSize": 18, "color": "#bf00bf", "align": "center", "baseline": "middle"}, "encoding": {"text": {"field": "t"}}}
    ]}
  ],
  "resolve": {"scale": {"y": "independent"}}
 },
 {
  "width": 468, "height": 247,
  "encoding": {"x": {"field": "T", "type": "quantitative", "scale": {"domain": [-7.1, 367.7], "nice": false, "zero": false}, "axis": {"title": "Temperature [K]", "values": [0,50,100,150,200,250,300,350], "format": "d"}}},
  "layer": [
   {"data": {"values": [{"T": 126}]}, "mark": {"type": "rule", "color": "#1f77b4", "strokeDash": [2, 2], "strokeWidth": 0.9}, "encoding": {}},
   {"encoding": {"y": {"field": "d", "type": "quantitative", "scale": {"domain": [-0.482, 5.0], "nice": false, "zero": false}, "axis": {"orient": "right", "title": "dM/dT [a.u.]", "values": [0,1,2,3,4], "labels": false, "titleAngle": 270, "titleBaseline": "top", "titlePadding": 3}}},
    "layer": [
     {"data": {"name": "derBF"}, "mark": {"type": "line", "color": "#bf00bf", "strokeWidth": 1.2, "clip": true}},
     {"data": {"name": "derBZ"}, "mark": {"type": "line", "color": "#ff7f0e", "strokeWidth": 1.2, "clip": true}}
    ]},
   {"encoding": {"y": {"field": "y", "type": "quantitative", "scale": {"domain": [-0.1, 0.8], "nice": false, "zero": false}, "axis": {"title": "Magnetisation [μB/f.u.]", "values": [0, 0.2, 0.4, 0.6, 0.8], "format": ".1f"}}},
    "layer": [
     {"data": {"name": "magBF"}, "mark": {"type": "line", "strokeWidth": 2.6, "clip": true, "point": {"filled": true, "size": 10}},
      "encoding": {"color": {"datum": "FCW 50mT, H || [100]", "type": "nominal", "scale": {"domain": ["FCW 50mT, H || [100]", "ZFC 30mT, H || [100]"], "range": ["#bf00bf", "#ff7f0e"]},
        "legend": {"orient": "none", "legendX": 199.5, "legendY": 53, "title": null, "symbolType": "M-1,0H3M1,-0.75V0.75M0.8,-0.75H1.2M0.8,0.75H1.2M0.88,-0.12H1.12V0.12H0.88Z", "symbolSize": 225, "symbolStrokeWidth": 1.4, "symbolOpacity": 0.5, "labelFontSize": 15, "labelOffset": 27.3, "padding": 6, "rowPadding": 3.3, "strokeColor": "#d8d8d8", "cornerRadius": 3, "fillColor": "rgba(255,255,255,0.8)", "labelLimit": 400}}}},
     {"data": {"name": "magBZ"}, "mark": {"type": "line", "strokeWidth": 2.6, "clip": true, "point": {"filled": true, "size": 10}},
      "encoding": {"color": {"datum": "ZFC 30mT, H || [100]", "type": "nominal", "scale": {"domain": ["FCW 50mT, H || [100]", "ZFC 30mT, H || [100]"], "range": ["#bf00bf", "#ff7f0e"]},
        "legend": {"orient": "none", "legendX": 199.5, "legendY": 53, "title": null, "symbolType": "M-1,0H3M1,-0.75V0.75M0.8,-0.75H1.2M0.8,0.75H1.2M0.88,-0.12H1.12V0.12H0.88Z", "symbolSize": 225, "symbolStrokeWidth": 1.4, "symbolOpacity": 0.5, "labelFontSize": 15, "labelOffset": 27.3, "padding": 6, "rowPadding": 3.3, "strokeColor": "#d8d8d8", "cornerRadius": 3, "fillColor": "rgba(255,255,255,0.8)", "labelLimit": 400}}}},
     {"data": {"values": [{"T": 18.6, "T2": 62.9, "y": 0.58, "y2": 0.763}]}, "mark": {"type": "rect", "fill": "white", "stroke": "#6a8bb0", "strokeWidth": 1.2, "cornerRadius": 9}, "encoding": {"x2": {"field": "T2"}, "y2": {"field": "y2"}}},
     {"data": {"values": [{"T": 110.9, "T2": 142, "y": -0.037, "y2": 0.037}]}, "mark": {"type": "rect", "fill": "white", "stroke": "#9a9a9a", "strokeWidth": 1, "cornerRadius": 4}, "encoding": {"x2": {"field": "T2"}, "y2": {"field": "y2"}}},
     {"data": {"values": [{"T": 202.9, "T2": 297.7, "y": 0.151, "y2": 0.237}]}, "mark": {"type": "rect", "fill": "white", "stroke": "#8a8a8a", "strokeWidth": 1, "cornerRadius": 5}, "encoding": {"x2": {"field": "T2"}, "y2": {"field": "y2"}}},
     {"data": {"values": [{"T": 40.7, "y": 0.672, "t": "b)"}]}, "mark": {"type": "text", "fontSize": 32, "color": "#000", "align": "center", "baseline": "middle"}, "encoding": {"text": {"field": "t"}}},
     {"data": {"values": [{"T": 126.4, "y": 0.0, "t": "126K"}]}, "mark": {"type": "text", "fontSize": 12.5, "color": "#111", "align": "center", "baseline": "middle"}, "encoding": {"text": {"field": "t"}}},
     {"data": {"values": [{"T": 250.3, "y": 0.194, "t": "PMN-PT(011)"}]}, "mark": {"type": "text", "fontSize": 16.5, "color": "#111", "align": "center", "baseline": "middle"}, "encoding": {"text": {"field": "t"}}},
     {"data": {"values": [{"T": 12.4, "y": 0.502, "t": "⟵"}]}, "mark": {"type": "text", "fontSize": 18, "color": "#bf00bf", "align": "center", "baseline": "middle"}, "encoding": {"text": {"field": "t"}}},
     {"data": {"values": [{"T": 12.4, "y": 0.301, "t": "⟵"}]}, "mark": {"type": "text", "fontSize": 18, "color": "#ff7f0e", "align": "center", "baseline": "middle"}, "encoding": {"text": {"field": "t"}}},
     {"data": {"values": [{"T": 333, "y": -0.018, "t": "⟶"}]}, "mark": {"type": "text", "fontSize": 18, "color": "#000", "align": "center", "baseline": "middle"}, "encoding": {"text": {"field": "t"}}}
    ]}
  ],
  "resolve": {"scale": {"y": "independent"}}
 },
 {
  "width": 466, "height": 266,
  "encoding": {
   "x": {"field": "h", "type": "quantitative", "scale": {"domain": [-0.3, 0.3], "nice": false, "zero": false}, "axis": {"title": "μ₀ H [T]", "values": [-0.2, 0, 0.2], "format": ".1f"}},
   "y": {"field": "m", "type": "quantitative", "scale": {"domain": [-4, 4], "nice": false, "zero": false}, "axis": {"title": "Magnetisation [μB/f.u.]", "values": [-4,-3,-2,-1,0,1,2,3,4], "format": "d"}}
  },
  "layer": [
   {"data": {"values": [{"h": 0, "m": -4, "m2": 4}]}, "mark": {"type": "rule", "color": "#1f77b4", "strokeDash": [2, 2], "strokeWidth": 0.9}, "encoding": {"y2": {"field": "m2"}}},
   {"data": {"values": [{"h": -0.3, "h2": 0.3, "m": 0}]}, "mark": {"type": "rule", "color": "#1f77b4", "strokeDash": [2, 2], "strokeWidth": 0.9}, "encoding": {"x2": {"field": "h2"}}},
   {"data": {"name": "loopC"}, "mark": {"type": "line", "strokeWidth": 1.3, "point": {"filled": true, "size": 18}},
    "encoding": {"order": {"field": "i", "type": "quantitative"},
     "color": {"field": "s", "type": "nominal", "scale": {"domain": ["A", "B", "C"], "range": ["#0000ff", "#ff7f0e", "#000000"]},
      "legend": {"orient": "none", "legendX": 6.5, "legendY": 5.5, "title": null, "labelExpr": "datum.label == 'A' ? 'PMN-PT(011), H || [01-1]' : datum.label == 'B' ? 'PMN-PT(011), H || [100]' : 'PMN-PT(001), H || [100]'", "symbolType": "M-1,0H3M1,-0.8V0.8M0.75,-0.8H1.25M0.75,0.8H1.25M0.85,-0.15H1.15V0.15H0.85Z", "symbolSize": 156, "symbolStrokeWidth": 1.4, "labelFontSize": 11.5, "labelOffset": 18.5, "padding": 5, "rowPadding": 4.2, "strokeColor": "#d8d8d8", "cornerRadius": 3, "fillColor": "rgba(255,255,255,0.8)", "labelLimit": 400}}}},
   {"data": {"values": [{"h": -0.2653, "h2": -0.1942, "m": 0.1, "m2": 1.584}]}, "mark": {"type": "rect", "fill": "white", "stroke": "#6a8bb0", "strokeWidth": 1.2, "cornerRadius": 9}, "encoding": {"x2": {"field": "h2"}, "y2": {"field": "m2"}}},
   {"data": {"values": [{"h": -0.2298, "m": 0.84, "t": "c)"}]}, "mark": {"type": "text", "fontSize": 32, "color": "#000", "align": "center", "baseline": "middle"}, "encoding": {"text": {"field": "t"}}}
  ]
 },
 {
  "width": 468, "height": 266,
  "encoding": {
   "x": {"field": "h", "type": "quantitative", "scale": {"domain": [-1.5, 1.5], "nice": false, "zero": false}, "axis": {"title": "μ₀ H [T]", "values": [-1, 0, 1], "format": "d"}},
   "y": {"field": "m", "type": "quantitative", "scale": {"domain": [-4, 4], "nice": false, "zero": false}, "axis": {"title": "Magnetisation [μB/f.u.]", "values": [-4,-3,-2,-1,0,1,2,3,4], "format": "d"}}
  },
  "layer": [
   {"data": {"values": [{"h": 0, "m": -4, "m2": 4}]}, "mark": {"type": "rule", "color": "#1f77b4", "strokeDash": [2, 2], "strokeWidth": 0.9}, "encoding": {"y2": {"field": "m2"}}},
   {"data": {"values": [{"h": -1.5, "h2": 1.5, "m": 0}]}, "mark": {"type": "rule", "color": "#1f77b4", "strokeDash": [2, 2], "strokeWidth": 0.9}, "encoding": {"x2": {"field": "h2"}}},
   {"data": {"name": "loopD"}, "mark": {"type": "line", "strokeWidth": 1.3, "point": {"filled": true, "size": 18}},
    "encoding": {"order": {"field": "i", "type": "quantitative"},
     "color": {"field": "s", "type": "nominal", "scale": {"domain": ["A", "B", "C"], "range": ["#0000ff", "#ff7f0e", "#008000"]},
      "legend": {"orient": "none", "legendX": 7, "legendY": 8.3, "title": null, "labelExpr": "datum.label == 'A' ? 'H || [01-1] (ip)' : datum.label == 'B' ? 'H || [100] (ip)' : 'H || [011] (oop)'", "symbolType": "M-1,0H3M1,-0.8V0.8M0.75,-0.8H1.25M0.75,0.8H1.25M0.85,-0.15H1.15V0.15H0.85Z", "symbolSize": 196, "symbolStrokeWidth": 1.4, "labelFontSize": 13.7, "labelOffset": 27, "padding": 4, "rowPadding": 6.8, "strokeColor": "#d8d8d8", "cornerRadius": 3, "fillColor": "rgba(255,255,255,0.8)", "labelLimit": 400}}}},
   {"data": {"values": [{"h": -1.315, "h2": -0.959, "m": 0.1, "m2": 1.584}]}, "mark": {"type": "rect", "fill": "white", "stroke": "#6a8bb0", "strokeWidth": 1.2, "cornerRadius": 9}, "encoding": {"x2": {"field": "h2"}, "y2": {"field": "m2"}}},
   {"data": {"values": [{"h": 0.639, "h2": 1.359, "m": -1.35, "m2": -0.68}]}, "mark": {"type": "rect", "fill": "white", "stroke": "#8a8a8a", "strokeWidth": 1, "cornerRadius": 5}, "encoding": {"x2": {"field": "h2"}, "y2": {"field": "m2"}}},
   {"data": {"values": [{"h": -1.137, "m": 0.84, "t": "d)"}]}, "mark": {"type": "text", "fontSize": 32, "color": "#000", "align": "center", "baseline": "middle"}, "encoding": {"text": {"field": "t"}}},
   {"data": {"values": [{"h": 0.999, "m": -1.015, "t": "PMN-PT(011)"}]}, "mark": {"type": "text", "fontSize": 16, "color": "#111", "align": "center", "baseline": "middle"}, "encoding": {"text": {"field": "t"}}}
  ]
 }
],
"columns": 2,
"bounds": "flush",
"align": "each",
"center": true,
"spacing": {"row": 50.7, "column": 95.5},
"resolve": {"scale": {"x": "independent", "y": "independent", "color": "independent"}, "legend": {"color": "independent"}}
}
